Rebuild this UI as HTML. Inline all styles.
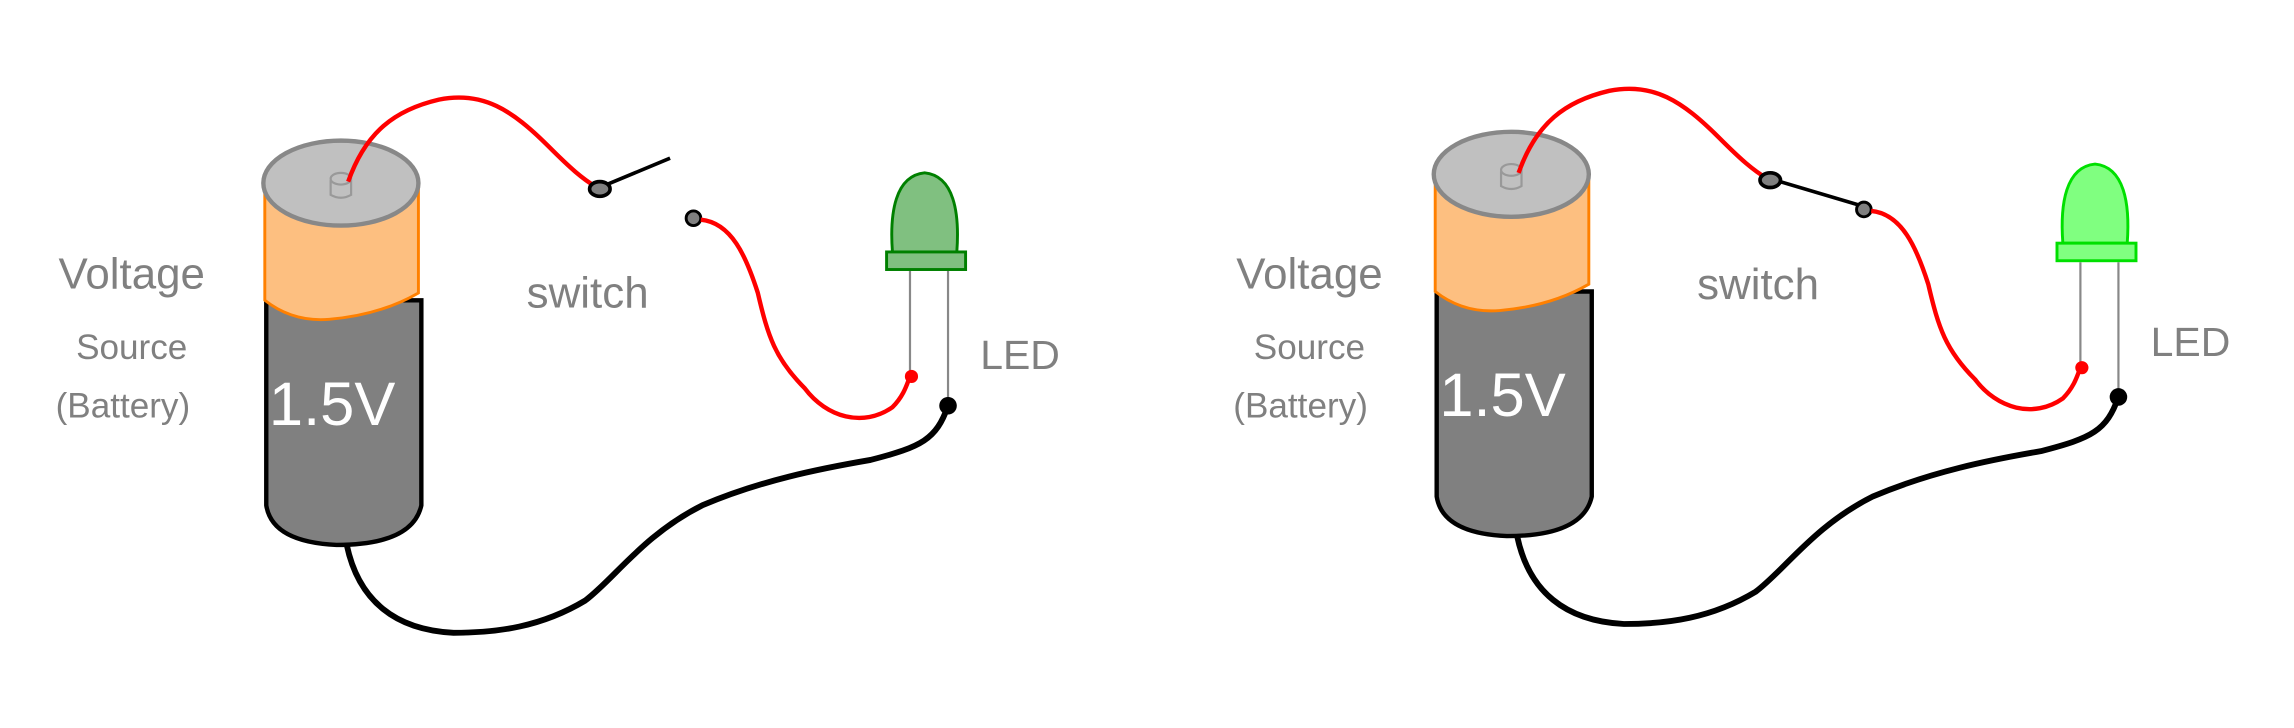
<!DOCTYPE html>
<html><head><meta charset="utf-8"><style>
html,body{margin:0;padding:0;background:#fff;width:2294px;height:728px;overflow:hidden}
svg{display:block}
text{font-family:"Liberation Sans",sans-serif;fill:#808080}
</style></head><body>
<svg width="2294" height="728" viewBox="0 0 1568 497" preserveAspectRatio="none">
<defs>
<g id="battery">
  <path d="M182,205 L182,345 Q186,370 230,372 Q282,372 288,345 L288,205 Z" fill="#808080" stroke="#000" stroke-width="3"/>
  <path d="M181,128 L181,205 Q200,220 225,218 Q260,215 286,200 L286,128 Z" fill="#fdbf80" stroke="#ff8000" stroke-width="2"/>
  <ellipse cx="233" cy="125" rx="53" ry="29" fill="#c0c0c0" stroke="#888" stroke-width="3"/>
  <path d="M226,123 L226,133 Q233,137 240,133 L240,123" fill="none" stroke="#999" stroke-width="1.5"/>
  <ellipse cx="233" cy="122" rx="7" ry="4" fill="#c0c0c0" stroke="#999" stroke-width="1.5"/>
  <text x="227" y="290" text-anchor="middle" font-size="42" style="fill:#fff">1.5V</text>
</g>
</defs>
<g>
  <use href="#battery"/>
  <text x="40" y="197" font-size="30">Voltage</text>
  <text x="52" y="245" font-size="24">Source</text>
  <text x="38" y="285" font-size="24">(Battery)</text>
  <text x="360" y="210" font-size="30">switch</text>
  <text x="670" y="252" font-size="28">LED</text>
  <path d="M238,124 C250,90 270,75 300,68 C330,62 350,75 375,100 C390,115 398,122 408,128" fill="none" stroke="#f00" stroke-width="3"/>
  <line x1="410" y1="128" x2="458" y2="108" stroke="#000" stroke-width="2.5"/>
  <ellipse cx="410" cy="129" rx="7" ry="5" fill="#808080" stroke="#000" stroke-width="2.5"/>
  <ellipse cx="474" cy="149" rx="5" ry="5" fill="#808080" stroke="#000" stroke-width="2"/>
  <path d="M479,150 C500,152 510,175 518,200 C525,230 530,245 550,265 C565,285 590,292 610,278 C618,270 620,262 622,257" fill="none" stroke="#f00" stroke-width="3"/>
  <line x1="622" y1="185" x2="622" y2="256" stroke="#888" stroke-width="1.5"/>
  <line x1="648" y1="185" x2="648" y2="275" stroke="#888" stroke-width="1.5"/>
  <path d="M610,172 C608,145 612,120 632,118 C652,120 656,145 654,172 Z" fill="#80c080" stroke="#008000" stroke-width="2"/>
  <rect x="606" y="172" width="54" height="12" fill="#80c080" stroke="#008000" stroke-width="2"/>
  <circle cx="623" cy="257" r="4.5" fill="#f00"/>
  <path d="M648,277 C640,300 630,305 595,314 C560,320 520,328 480,345 C440,365 420,395 400,410 C370,428 340,432 310,432 C270,430 245,410 237,372" fill="none" stroke="#000" stroke-width="4"/>
  <circle cx="648" cy="277" r="6" fill="#000"/>
</g>
<g transform="translate(800,-6)">
  <use href="#battery"/>
  <text x="45" y="203" font-size="30">Voltage</text>
  <text x="57" y="251" font-size="24">Source</text>
  <text x="43" y="291" font-size="24">(Battery)</text>
  <text x="360" y="210" font-size="30">switch</text>
  <text x="670" y="249" font-size="28">LED</text>
  <path d="M238,124 C250,90 270,75 300,68 C330,62 350,75 375,100 C390,115 398,122 408,128" fill="none" stroke="#f00" stroke-width="3"/>
  <line x1="410" y1="128" x2="474" y2="147" stroke="#000" stroke-width="2.5"/>
  <ellipse cx="410" cy="129" rx="7" ry="5" fill="#808080" stroke="#000" stroke-width="2.5"/>
  <ellipse cx="474" cy="149" rx="5" ry="5" fill="#808080" stroke="#000" stroke-width="2"/>
  <path d="M479,150 C500,152 510,175 518,200 C525,230 530,245 550,265 C565,285 590,292 610,278 C618,270 620,262 622,257" fill="none" stroke="#f00" stroke-width="3"/>
  <line x1="622" y1="185" x2="622" y2="256" stroke="#888" stroke-width="1.5"/>
  <line x1="648" y1="185" x2="648" y2="275" stroke="#888" stroke-width="1.5"/>
  <path d="M610,172 C608,145 612,120 632,118 C652,120 656,145 654,172 Z" fill="#80ff80" stroke="#00e000" stroke-width="2"/>
  <rect x="606" y="172" width="54" height="12" fill="#80ff80" stroke="#00e000" stroke-width="2"/>
  <circle cx="623" cy="257" r="4.5" fill="#f00"/>
  <path d="M648,277 C640,300 630,305 595,314 C560,320 520,328 480,345 C440,365 420,395 400,410 C370,428 340,432 310,432 C270,430 245,410 237,372" fill="none" stroke="#000" stroke-width="4"/>
  <circle cx="648" cy="277" r="6" fill="#000"/>
</g>
</svg>
</body></html>
